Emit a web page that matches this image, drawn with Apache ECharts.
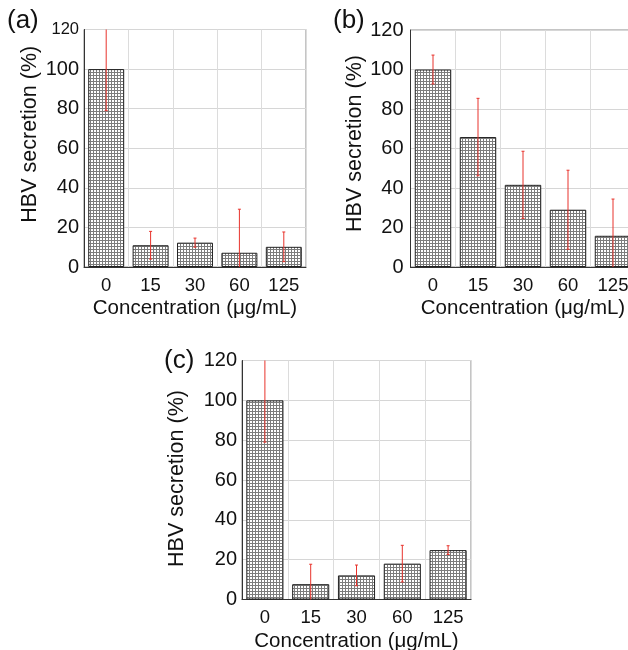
<!DOCTYPE html>
<html>
<head>
<meta charset="utf-8">
<script src="https://cdn.jsdelivr.net/npm/echarts@6/dist/echarts.min.js"></script>
<style>
  html, body { margin: 0; padding: 0; background: #fff; }
  #chart { width: 628px; height: 650px; }
</style>
</head>
<body>
<div id="chart"></div>
<script>
// Concentrations tested (µg/mL)
const concentrations = ['0', '15', '30', '60', '125'];

// HBV secretion (% of untreated control) and error half-widths, per panel
const secretionA = [100, 11, 12.3, 7.2, 10.2];
const errorA     = [21, 7, 2.3, 22, 7.5];

const secretionB = [100, 65.8, 41.6, 29, 15.8];
const errorB     = [7.3, 19.6, 17, 20, 18.6];

const secretionC = [100, 7.7, 12.1, 18, 24.8];
const errorC     = [21, 10, 5.2, 9.2, 2.2];

const yTicks = { min: 0, max: 120, interval: 20 };

const FONT = '"Liberation Sans", Arial, Helvetica, sans-serif';

// Fine cross-hatch fill used for the bars
function hatchPattern() {
  const c = document.createElement('canvas');
  c.width = 3; c.height = 3;
  const g = c.getContext('2d');
  g.fillStyle = '#ffffff';
  g.fillRect(0, 0, 3, 3);
  g.fillStyle = '#7c7c7c';
  g.fillRect(0, 0, 3, 1);
  g.fillRect(0, 0, 1, 3);
  return c;
}
const hatch = { image: hatchPattern(), repeat: 'repeat' };

const panels = [
  { label: '(a)', values: secretionA, errors: errorA,
    grid: { left: 84, top: 29.5, width: 222, height: 237.5 },
    labelMargin: 5, nameGap: 43, namePad: 28, tag: [7, 23], smallTop: true },
  { label: '(b)', values: secretionB, errors: errorB,
    grid: { left: 410.5, top: 30, width: 225, height: 237 },
    labelMargin: 7, nameGap: 44, namePad: 10, tag: [333, 23], smallTop: false },
  { label: '(c)', values: secretionC, errors: errorC,
    grid: { left: 242, top: 360.5, width: 229, height: 239 },
    labelMargin: 5, nameGap: 54, namePad: 3, tag: [164, 363], smallTop: false }
];

// Vertical error bar with tiny caps, positioned through the axis scales
function renderErrorBar(params, api) {
  const x = api.value(0);
  const v = api.value(1);
  const e = api.value(2);
  const hi = api.coord([x, v + e]);
  const lo = api.coord([x, v - e]);
  const cap = 1.5;
  const style = { stroke: '#e8332c', lineWidth: 1 };
  return {
    type: 'group',
    children: [
      { type: 'line', shape: { x1: hi[0], y1: hi[1], x2: lo[0], y2: lo[1] }, style },
      { type: 'line', shape: { x1: hi[0] - cap, y1: hi[1], x2: hi[0] + cap, y2: hi[1] }, style },
      { type: 'line', shape: { x1: lo[0] - cap, y1: lo[1], x2: lo[0] + cap, y2: lo[1] }, style }
    ]
  };
}

const grids = [], xAxes = [], yAxes = [], series = [], graphics = [];

panels.forEach((p, i) => {
  grids.push(Object.assign({
    show: true, borderColor: '#8a8a8a', borderWidth: 1, backgroundColor: 'transparent',
    containLabel: false, outerBoundsMode: 'none'
  }, p.grid));

  xAxes.push({
    type: 'category', gridIndex: i, data: concentrations,
    name: 'Concentration (\u03bcg/mL)', nameLocation: 'middle', nameGap: 31,
    nameTextStyle: { fontFamily: FONT, fontSize: 20.5, color: '#111' },
    axisLine: { show: true, lineStyle: { color: '#333', width: 1 } },
    axisTick: { show: false },
    axisLabel: { fontFamily: FONT, fontSize: 18.5, color: '#111', margin: 9 },
    splitLine: { show: true, lineStyle: { color: '#dcdcdc', width: 1 } }
  });

  yAxes.push({
    type: 'value', gridIndex: i,
    min: yTicks.min, max: yTicks.max, interval: yTicks.interval,
    name: 'HBV secretion (%)', nameLocation: 'middle', nameRotate: 90, nameGap: p.nameGap,
    nameTextStyle: { fontFamily: FONT, fontSize: 21.5, color: '#111', padding: [0, 0, 0, p.namePad] },
    axisLine: { show: true, lineStyle: { color: '#333', width: 1 } },
    axisTick: { show: false },
    axisLabel: {
      fontFamily: FONT, fontSize: 20, color: '#111', margin: p.labelMargin,
      formatter: p.smallTop ? (v => v === yTicks.max ? '{s|' + v + '}' : String(v)) : (v => String(v)),
      rich: { s: { fontFamily: FONT, fontSize: 16.5, color: '#111' } }
    },
    splitLine: { show: true, lineStyle: { color: '#d6d6d6', width: 1 } }
  });

  series.push({
    type: 'bar', xAxisIndex: i, yAxisIndex: i,
    data: p.values, barWidth: '81%',
    itemStyle: { color: hatch, borderColor: '#222', borderWidth: 1 },
    emphasis: { disabled: true },
    z: 2
  });

  series.push({
    type: 'custom', xAxisIndex: i, yAxisIndex: i,
    data: p.values.map((v, k) => [k, v, p.errors[k]]),
    encode: { x: 0, y: 1 },
    renderItem: renderErrorBar,
    clip: true,
    z: 5
  });

  graphics.push({
    type: 'text', left: p.tag[0], top: p.tag[1] - 15,
    style: { text: p.label, fontFamily: FONT, fontSize: 26, fill: '#111' }
  });
});

const chart = echarts.init(document.getElementById('chart'), null, { renderer: 'canvas' });
chart.setOption({
  animation: false,
  backgroundColor: '#ffffff',
  grid: grids,
  xAxis: xAxes,
  yAxis: yAxes,
  series: series,
  graphic: graphics
});
</script>
</body>
</html>
